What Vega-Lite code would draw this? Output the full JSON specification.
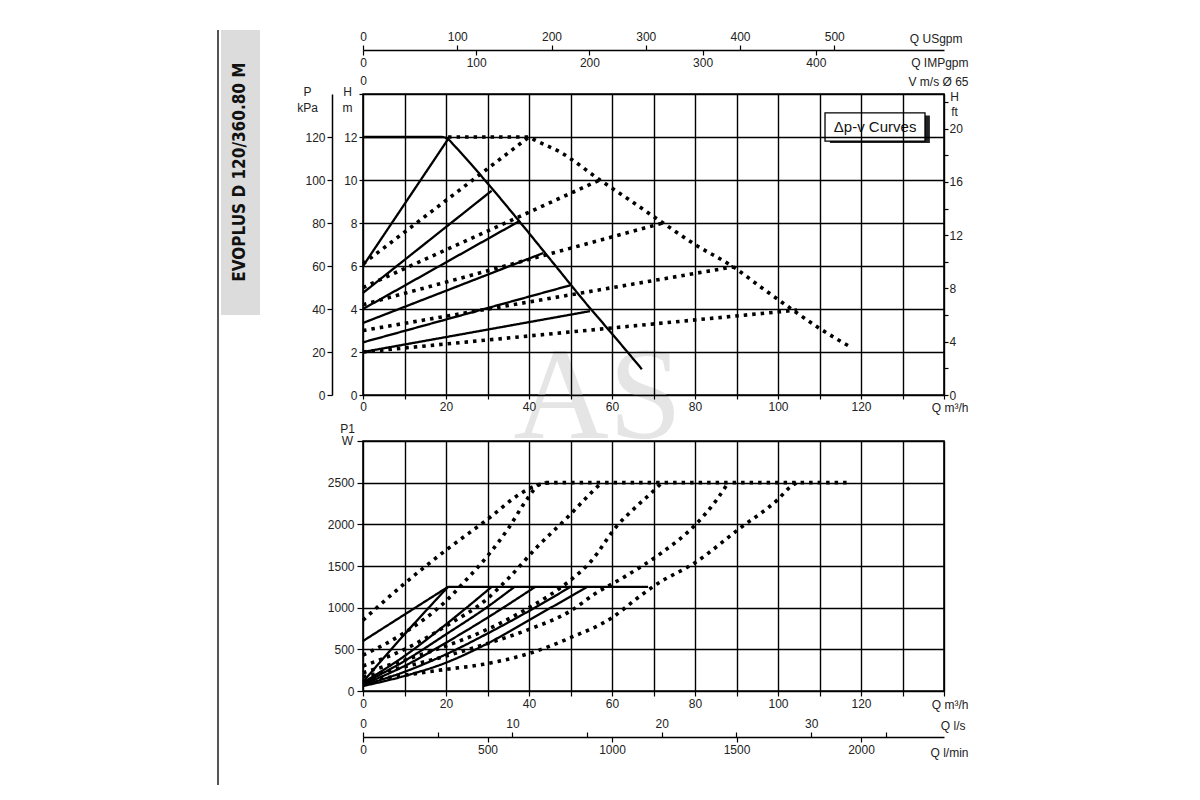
{
  "$schema": "https://vega.github.io/schema/vega-lite/v6.json",
  "background": "white",
  "padding": {"left": 216, "top": 28, "right": 5, "bottom": 5},
  "config": {
    "view": {"stroke": "black", "strokeWidth": 1.6},
    "axis": {"labelFont": "Liberation Sans", "labelFontSize": 12, "labelColor": "#222", "titleFont": "Liberation Sans", "titleFontSize": 12, "titleFontWeight": "normal", "titleColor": "#222", "domainColor": "black", "tickColor": "black", "gridColor": "black", "gridWidth": 1.4, "gridOpacity": 1, "domainWidth": 1.5, "tickWidth": 1.2, "labelOverlap": false, "labelFlush": false},
    "text": {"font": "Liberation Sans"}
  },
  "datasets": {
    "upper": [
      {"s": "max", "t": "solid", "Q": 0, "H": 12},
      {"s": "max", "t": "solid", "Q": 19, "H": 12},
      {"s": "max", "t": "solid", "Q": 20.5, "H": 11.9},
      {"s": "max", "t": "solid", "Q": 22, "H": 11.6},
      {"s": "max", "t": "solid", "Q": 30, "H": 9.85},
      {"s": "max", "t": "solid", "Q": 38, "H": 8.0},
      {"s": "max", "t": "solid", "Q": 46, "H": 6.1},
      {"s": "max", "t": "solid", "Q": 54, "H": 4.2},
      {"s": "max", "t": "solid", "Q": 60, "H": 2.85},
      {"s": "max", "t": "solid", "Q": 67.2, "H": 1.2},
      {"s": "sa", "t": "solid", "Q": 0, "H": 6.0},
      {"s": "sa", "t": "solid", "Q": 20.5, "H": 11.9},
      {"s": "sb", "t": "solid", "Q": 0, "H": 4.75},
      {"s": "sb", "t": "solid", "Q": 31, "H": 9.5},
      {"s": "sc", "t": "solid", "Q": 0, "H": 4.0},
      {"s": "sc", "t": "solid", "Q": 37.8, "H": 8.1},
      {"s": "sd", "t": "solid", "Q": 0, "H": 3.35},
      {"s": "sd", "t": "solid", "Q": 43.4, "H": 6.6},
      {"s": "se", "t": "solid", "Q": 0, "H": 2.45},
      {"s": "se", "t": "solid", "Q": 49.9, "H": 5.1},
      {"s": "sf", "t": "solid", "Q": 0, "H": 2.0},
      {"s": "sf", "t": "solid", "Q": 54.7, "H": 3.9},
      {"s": "denv", "t": "dotted", "Q": 20.5, "H": 12},
      {"s": "denv", "t": "dotted", "Q": 40, "H": 12},
      {"s": "denv", "t": "dotted", "Q": 41.5, "H": 11.85},
      {"s": "denv", "t": "dotted", "Q": 47.5, "H": 11.3},
      {"s": "denv", "t": "dotted", "Q": 57.1, "H": 10.0},
      {"s": "denv", "t": "dotted", "Q": 64, "H": 9.1},
      {"s": "denv", "t": "dotted", "Q": 72.3, "H": 8.0},
      {"s": "denv", "t": "dotted", "Q": 80, "H": 7.0},
      {"s": "denv", "t": "dotted", "Q": 89.2, "H": 5.96},
      {"s": "denv", "t": "dotted", "Q": 96, "H": 5.0},
      {"s": "denv", "t": "dotted", "Q": 103.6, "H": 3.95},
      {"s": "denv", "t": "dotted", "Q": 110, "H": 3.1},
      {"s": "denv", "t": "dotted", "Q": 117.8, "H": 2.2},
      {"s": "da", "t": "dotted", "Q": 0, "H": 6.1},
      {"s": "da", "t": "dotted", "Q": 40, "H": 12},
      {"s": "db", "t": "dotted", "Q": 0, "H": 5.0},
      {"s": "db", "t": "dotted", "Q": 57.1, "H": 10.0},
      {"s": "dc", "t": "dotted", "Q": 0, "H": 4.2},
      {"s": "dc", "t": "dotted", "Q": 72.3, "H": 8.0},
      {"s": "dd", "t": "dotted", "Q": 0, "H": 3.0},
      {"s": "dd", "t": "dotted", "Q": 89.2, "H": 5.96},
      {"s": "de", "t": "dotted", "Q": 0, "H": 2.0},
      {"s": "de", "t": "dotted", "Q": 104.6, "H": 3.95}
    ],
    "lower": [
      {"s": "pmax", "t": "solid", "Q": 20.5, "P": 1250},
      {"s": "pmax", "t": "solid", "Q": 68.7, "P": 1250},
      {"s": "ps1", "t": "solid", "Q": 0, "P": 600},
      {"s": "ps1", "t": "solid", "Q": 20.5, "P": 1250},
      {"s": "ps2", "t": "solid", "Q": 0, "P": 110},
      {"s": "ps2", "t": "solid", "Q": 10, "P": 680},
      {"s": "ps2", "t": "solid", "Q": 20.5, "P": 1250},
      {"s": "ps3", "t": "solid", "Q": 0, "P": 100},
      {"s": "ps3", "t": "solid", "Q": 10, "P": 420},
      {"s": "ps3", "t": "solid", "Q": 20, "P": 800},
      {"s": "ps3", "t": "solid", "Q": 31, "P": 1250},
      {"s": "ps4", "t": "solid", "Q": 0, "P": 90},
      {"s": "ps4", "t": "solid", "Q": 10, "P": 360},
      {"s": "ps4", "t": "solid", "Q": 20, "P": 680},
      {"s": "ps4", "t": "solid", "Q": 30, "P": 1010},
      {"s": "ps4", "t": "solid", "Q": 36.5, "P": 1250},
      {"s": "ps5", "t": "solid", "Q": 0, "P": 80},
      {"s": "ps5", "t": "solid", "Q": 10, "P": 300},
      {"s": "ps5", "t": "solid", "Q": 20, "P": 580},
      {"s": "ps5", "t": "solid", "Q": 30, "P": 880},
      {"s": "ps5", "t": "solid", "Q": 41.5, "P": 1250},
      {"s": "ps6", "t": "solid", "Q": 0, "P": 70},
      {"s": "ps6", "t": "solid", "Q": 10, "P": 230},
      {"s": "ps6", "t": "solid", "Q": 20, "P": 440},
      {"s": "ps6", "t": "solid", "Q": 30, "P": 690},
      {"s": "ps6", "t": "solid", "Q": 40, "P": 960},
      {"s": "ps6", "t": "solid", "Q": 50, "P": 1250},
      {"s": "ps7", "t": "solid", "Q": 0, "P": 60},
      {"s": "ps7", "t": "solid", "Q": 10, "P": 180},
      {"s": "ps7", "t": "solid", "Q": 20, "P": 340},
      {"s": "ps7", "t": "solid", "Q": 30, "P": 570},
      {"s": "ps7", "t": "solid", "Q": 40, "P": 850},
      {"s": "ps7", "t": "solid", "Q": 54, "P": 1250},
      {"s": "pdh", "t": "dotted", "Q": 44, "P": 2500},
      {"s": "pdh", "t": "dotted", "Q": 117, "P": 2500},
      {"s": "pd0", "t": "dotted", "Q": 0, "P": 850},
      {"s": "pd0", "t": "dotted", "Q": 10, "P": 1290},
      {"s": "pd0", "t": "dotted", "Q": 20, "P": 1690},
      {"s": "pd0", "t": "dotted", "Q": 30, "P": 2060},
      {"s": "pd0", "t": "dotted", "Q": 38, "P": 2370},
      {"s": "pd0", "t": "dotted", "Q": 42, "P": 2470},
      {"s": "pd0", "t": "dotted", "Q": 45, "P": 2500},
      {"s": "pd1", "t": "dotted", "Q": 0, "P": 430},
      {"s": "pd1", "t": "dotted", "Q": 10, "P": 700},
      {"s": "pd1", "t": "dotted", "Q": 20, "P": 1080},
      {"s": "pd1", "t": "dotted", "Q": 25, "P": 1340},
      {"s": "pd1", "t": "dotted", "Q": 30, "P": 1620},
      {"s": "pd1", "t": "dotted", "Q": 35, "P": 1950},
      {"s": "pd1", "t": "dotted", "Q": 39.5, "P": 2300},
      {"s": "pd1", "t": "dotted", "Q": 42.5, "P": 2480},
      {"s": "pd1", "t": "dotted", "Q": 44, "P": 2500},
      {"s": "pd2", "t": "dotted", "Q": 0, "P": 300},
      {"s": "pd2", "t": "dotted", "Q": 10, "P": 500},
      {"s": "pd2", "t": "dotted", "Q": 20, "P": 780},
      {"s": "pd2", "t": "dotted", "Q": 30, "P": 1110},
      {"s": "pd2", "t": "dotted", "Q": 35, "P": 1350},
      {"s": "pd2", "t": "dotted", "Q": 42, "P": 1730},
      {"s": "pd2", "t": "dotted", "Q": 49.4, "P": 2090},
      {"s": "pd2", "t": "dotted", "Q": 55, "P": 2380},
      {"s": "pd2", "t": "dotted", "Q": 57.5, "P": 2500},
      {"s": "pd3", "t": "dotted", "Q": 0, "P": 220},
      {"s": "pd3", "t": "dotted", "Q": 10, "P": 370},
      {"s": "pd3", "t": "dotted", "Q": 20, "P": 540},
      {"s": "pd3", "t": "dotted", "Q": 30, "P": 740},
      {"s": "pd3", "t": "dotted", "Q": 40, "P": 1000},
      {"s": "pd3", "t": "dotted", "Q": 45, "P": 1150},
      {"s": "pd3", "t": "dotted", "Q": 50, "P": 1330},
      {"s": "pd3", "t": "dotted", "Q": 55, "P": 1560},
      {"s": "pd3", "t": "dotted", "Q": 61, "P": 1970},
      {"s": "pd3", "t": "dotted", "Q": 66, "P": 2220},
      {"s": "pd3", "t": "dotted", "Q": 70.4, "P": 2420},
      {"s": "pd3", "t": "dotted", "Q": 72, "P": 2500},
      {"s": "pd4", "t": "dotted", "Q": 0, "P": 170},
      {"s": "pd4", "t": "dotted", "Q": 10, "P": 290},
      {"s": "pd4", "t": "dotted", "Q": 20, "P": 420},
      {"s": "pd4", "t": "dotted", "Q": 30, "P": 570},
      {"s": "pd4", "t": "dotted", "Q": 40, "P": 740},
      {"s": "pd4", "t": "dotted", "Q": 50, "P": 960},
      {"s": "pd4", "t": "dotted", "Q": 56, "P": 1170},
      {"s": "pd4", "t": "dotted", "Q": 63, "P": 1370},
      {"s": "pd4", "t": "dotted", "Q": 72, "P": 1660},
      {"s": "pd4", "t": "dotted", "Q": 80, "P": 1990},
      {"s": "pd4", "t": "dotted", "Q": 85, "P": 2280},
      {"s": "pd4", "t": "dotted", "Q": 88, "P": 2500},
      {"s": "pd5", "t": "dotted", "Q": 0, "P": 120},
      {"s": "pd5", "t": "dotted", "Q": 10, "P": 190},
      {"s": "pd5", "t": "dotted", "Q": 20, "P": 260},
      {"s": "pd5", "t": "dotted", "Q": 29, "P": 320},
      {"s": "pd5", "t": "dotted", "Q": 40, "P": 450},
      {"s": "pd5", "t": "dotted", "Q": 50, "P": 640},
      {"s": "pd5", "t": "dotted", "Q": 60, "P": 880},
      {"s": "pd5", "t": "dotted", "Q": 66, "P": 1110},
      {"s": "pd5", "t": "dotted", "Q": 70.4, "P": 1270},
      {"s": "pd5", "t": "dotted", "Q": 80, "P": 1540},
      {"s": "pd5", "t": "dotted", "Q": 91, "P": 1960},
      {"s": "pd5", "t": "dotted", "Q": 100, "P": 2300},
      {"s": "pd5", "t": "dotted", "Q": 103, "P": 2450},
      {"s": "pd5", "t": "dotted", "Q": 104.5, "P": 2500}
    ]
  },
  "vconcat": [
    {
      "width": 581,
      "height": 301,
      "resolve": {"scale": {"x": "independent", "y": "independent"}},
      "layer": [
        {
          "data": {"values": [{"Q": 56.6, "H": -0.14, "txt": "AS"}]},
          "mark": {"type": "text", "font": "Liberation Serif", "fontSize": 132, "color": "#d4d4d4", "opacity": 0.6, "align": "center", "baseline": "middle"},
          "encoding": {
            "x": {"field": "Q", "type": "quantitative", "scale": {"domain": [0, 140], "nice": false, "zero": false}, "axis": null},
            "y": {"field": "H", "type": "quantitative", "scale": {"domain": [0, 14], "nice": false, "zero": false}, "axis": null},
            "text": {"field": "txt"}
          }
        },
        {
          "data": {"values": [{"Q": -34.94, "H1": 16.98, "H2": -18.14}]},
          "mark": {"type": "rule", "color": "#555", "strokeWidth": 2},
          "encoding": {
            "x": {"field": "Q", "type": "quantitative", "scale": {"domain": [0, 140], "nice": false, "zero": false}, "axis": null},
            "y": {"field": "H1", "type": "quantitative", "scale": {"domain": [0, 14], "nice": false, "zero": false}, "axis": null},
            "y2": {"field": "H2"}
          }
        },
        {
          "data": {"values": [{"Q1": -34.22, "Q2": -24.82, "H1": 16.98, "H2": 3.72}]},
          "mark": {"type": "rect", "color": "#dcdcdc"},
          "encoding": {
            "x": {"field": "Q1", "type": "quantitative", "scale": {"domain": [0, 140], "nice": false, "zero": false}, "axis": null},
            "x2": {"field": "Q2"},
            "y": {"field": "H1", "type": "quantitative", "scale": {"domain": [0, 14], "nice": false, "zero": false}, "axis": null},
            "y2": {"field": "H2"}
          }
        },
        {
          "data": {"values": [{"Q": -29.64, "H": 10.37, "txt": "EVOPLUS D 120/360.80 M"}]},
          "mark": {"type": "text", "font": "DejaVu Sans Condensed", "fontWeight": "bold", "fontSize": 17, "angle": 270, "color": "#111", "align": "center", "baseline": "middle"},
          "encoding": {
            "x": {"field": "Q", "type": "quantitative", "scale": {"domain": [0, 140], "nice": false, "zero": false}, "axis": null},
            "y": {"field": "H", "type": "quantitative", "scale": {"domain": [0, 14], "nice": false, "zero": false}, "axis": null},
            "text": {"field": "txt"}
          }
        },
        {
          "data": {"name": "upper"},
          "mark": {"type": "line", "color": "black", "strokeCap": "butt", "interpolate": "monotone"},
          "encoding": {
            "x": {"field": "Q", "type": "quantitative", "scale": {"domain": [0, 140], "nice": false, "zero": false},
              "axis": {"orient": "bottom", "values": [0, 10, 20, 30, 40, 50, 60, 70, 80, 90, 100, 110, 120, 130, 140], "labelExpr": "datum.value % 20 == 0 && datum.value <= 120 ? datum.label : ''", "grid": true, "domain": false, "tickSize": 4, "labelPadding": 2, "title": "Q m³/h", "titleX": 605, "titleY": 12, "titleAlign": "right", "titleBaseline": "middle", "zindex": 1}},
            "y": {"field": "H", "type": "quantitative", "scale": {"domain": [0, 14], "nice": false, "zero": false},
              "axis": {"orient": "left", "values": [0, 2, 4, 6, 8, 10, 12, 14], "labelExpr": "datum.value == 14 ? '' : datum.label", "grid": true, "domain": false, "tickSize": 4, "labelPadding": 2, "title": ["H", "m"], "titleAngle": 0, "titleX": -16, "titleY": -8, "titleAlign": "center", "titleBaseline": "top", "titleLineHeight": 16, "zindex": 1}},
            "detail": {"field": "s"},
            "strokeDash": {"field": "t", "type": "nominal", "scale": {"domain": ["solid", "dotted"], "range": [[1, 0], [3.5, 5]]}, "legend": null},
            "strokeWidth": {"field": "t", "type": "nominal", "scale": {"domain": ["solid", "dotted"], "range": [2.3, 3.6]}, "legend": null}
          }
        },
        {
          "data": {"values": [{"Q1": 112.5, "Q2": 136.6, "H1": 13.0, "H2": 11.72}]},
          "mark": {"type": "rect", "color": "#222"},
          "encoding": {
            "x": {"field": "Q1", "type": "quantitative", "scale": {"domain": [0, 140], "nice": false, "zero": false}, "axis": null},
            "x2": {"field": "Q2"},
            "y": {"field": "H1", "type": "quantitative", "scale": {"domain": [0, 14], "nice": false, "zero": false}, "axis": null},
            "y2": {"field": "H2"}
          }
        },
        {
          "data": {"values": [{"Q1": 111.33, "Q2": 135.42, "H1": 13.12, "H2": 11.81}]},
          "mark": {"type": "rect", "fill": "white", "stroke": "black", "strokeWidth": 1.3},
          "encoding": {
            "x": {"field": "Q1", "type": "quantitative", "scale": {"domain": [0, 140], "nice": false, "zero": false}, "axis": null},
            "x2": {"field": "Q2"},
            "y": {"field": "H1", "type": "quantitative", "scale": {"domain": [0, 14], "nice": false, "zero": false}, "axis": null},
            "y2": {"field": "H2"}
          }
        },
        {
          "data": {"values": [{"Q": 123.4, "H": 12.47, "txt": "Δp-v Curves"}]},
          "mark": {"type": "text", "font": "Liberation Sans", "fontSize": 15, "color": "#111", "align": "center", "baseline": "middle"},
          "encoding": {
            "x": {"field": "Q", "type": "quantitative", "scale": {"domain": [0, 140], "nice": false, "zero": false}, "axis": null},
            "y": {"field": "H", "type": "quantitative", "scale": {"domain": [0, 14], "nice": false, "zero": false}, "axis": null},
            "text": {"field": "txt"}
          }
        },
        {
          "data": {"values": [{"u": 0, "v": 0}]},
          "mark": {"type": "point", "opacity": 0},
          "encoding": {
            "x": {"field": "u", "type": "quantitative", "scale": {"domain": [0, 140], "nice": false, "zero": false}, "axis": null},
            "y": {"field": "v", "type": "quantitative", "scale": {"domain": [0, 140], "nice": false, "zero": false},
              "axis": {"orient": "left", "offset": 31, "values": [0, 20, 40, 60, 80, 100, 120], "domain": true, "tickSize": 5, "labelPadding": 2, "grid": false, "title": ["P", "kPa"], "titleAngle": 0, "titleX": -25, "titleY": -8, "titleAlign": "center", "titleBaseline": "top", "titleLineHeight": 16}}
          }
        },
        {
          "data": {"values": [{"u": 0, "v": 0}]},
          "mark": {"type": "point", "opacity": 0},
          "encoding": {
            "x": {"field": "u", "type": "quantitative", "scale": {"domain": [0, 140], "nice": false, "zero": false}, "axis": null},
            "y": {"field": "v", "type": "quantitative", "scale": {"domain": [0, 22.6], "nice": false, "zero": false},
              "axis": {"orient": "right", "values": [0, 2, 4, 6, 8, 10, 12, 14, 16, 18, 20, 22], "labelExpr": "datum.value % 4 == 0 && datum.value <= 20 ? datum.label : ''", "domain": false, "tickSize": 4, "labelPadding": 1, "grid": false, "title": ["H", "ft"], "titleAngle": 0, "titleX": 10, "titleY": -3, "titleAlign": "center", "titleBaseline": "top", "titleLineHeight": 15}}
          }
        },
        {
          "data": {"values": [{"u": 0, "v": 0}]},
          "mark": {"type": "point", "opacity": 0},
          "encoding": {
            "x": {"field": "v", "type": "quantitative", "scale": {"domain": [0, 616.4], "nice": false, "zero": false},
              "axis": {"orient": "top", "offset": 44, "values": [0, 100, 200, 300, 400, 500], "domain": true, "tickSize": 5, "labelPadding": 2, "grid": false, "title": "Q USgpm", "titleX": 599, "titleY": -12, "titleAlign": "right", "titleBaseline": "middle"}},
            "y": {"field": "u", "type": "quantitative", "scale": {"domain": [0, 14], "nice": false, "zero": false}, "axis": null}
          }
        },
        {
          "data": {"values": [{"u": 0, "v": 0}]},
          "mark": {"type": "point", "opacity": 0},
          "encoding": {
            "x": {"field": "v", "type": "quantitative", "scale": {"domain": [0, 513.2], "nice": false, "zero": false},
              "axis": {"orient": "bottom", "offset": -345, "values": [0, 100, 200, 300, 400], "domain": false, "tickSize": 5, "labelPadding": 2, "grid": false, "title": "Q IMPgpm", "titleX": 605, "titleY": 12, "titleAlign": "right", "titleBaseline": "middle"}},
            "y": {"field": "u", "type": "quantitative", "scale": {"domain": [0, 14], "nice": false, "zero": false}, "axis": null}
          }
        },
        {
          "data": {"values": [{"u": 0, "v": 0}]},
          "mark": {"type": "point", "opacity": 0},
          "encoding": {
            "x": {"field": "v", "type": "quantitative", "scale": {"domain": [0, 11.7], "nice": false, "zero": false},
              "axis": {"orient": "top", "offset": 6, "values": [0], "domain": false, "ticks": false, "labelPadding": 1, "grid": false, "title": "V m/s Ø 65", "titleX": 605, "titleY": -7, "titleAlign": "right", "titleBaseline": "middle"}},
            "y": {"field": "u", "type": "quantitative", "scale": {"domain": [0, 14], "nice": false, "zero": false}, "axis": null}
          }
        }
      ]
    },
    {
      "width": 581,
      "height": 250,
      "resolve": {"scale": {"x": "independent", "y": "independent"}},
      "layer": [
        {
          "data": {"name": "lower"},
          "mark": {"type": "line", "color": "black", "strokeCap": "butt", "interpolate": "monotone"},
          "encoding": {
            "x": {"field": "Q", "type": "quantitative", "scale": {"domain": [0, 140], "nice": false, "zero": false},
              "axis": {"orient": "bottom", "values": [0, 10, 20, 30, 40, 50, 60, 70, 80, 90, 100, 110, 120, 130, 140], "labelExpr": "datum.value % 20 == 0 && datum.value <= 120 ? datum.label : ''", "grid": true, "domain": false, "tickSize": 5, "labelPadding": 2, "title": "Q m³/h", "titleX": 605, "titleY": 13, "titleAlign": "right", "titleBaseline": "middle", "zindex": 1}},
            "y": {"field": "P", "type": "quantitative", "scale": {"domain": [0, 3000], "nice": false, "zero": false},
              "axis": {"orient": "left", "values": [0, 500, 1000, 1500, 2000, 2500, 3000], "format": "d", "labelExpr": "datum.value == 3000 ? '' : datum.label", "grid": true, "domain": false, "tickSize": 6, "labelPadding": 3, "title": ["P1", "W"], "titleAngle": 0, "titleX": -16, "titleY": -18, "titleAlign": "center", "titleBaseline": "top", "titleLineHeight": 12, "zindex": 1}},
            "detail": {"field": "s"},
            "strokeDash": {"field": "t", "type": "nominal", "scale": {"domain": ["solid", "dotted"], "range": [[1, 0], [3.5, 5]]}, "legend": null},
            "strokeWidth": {"field": "t", "type": "nominal", "scale": {"domain": ["solid", "dotted"], "range": [2.3, 3.6]}, "legend": null}
          }
        },
        {
          "data": {"values": [{"u": 0, "v": 0}]},
          "mark": {"type": "point", "opacity": 0},
          "encoding": {
            "x": {"field": "v", "type": "quantitative", "scale": {"domain": [0, 38.89], "nice": false, "zero": false},
              "axis": {"orient": "top", "offset": -296, "values": [0, 5, 10, 15, 20, 25, 30, 35], "labelExpr": "datum.value % 10 == 0 ? datum.label : ''", "domain": true, "tickSize": 5, "labelPadding": 2, "grid": false, "title": "Q l/s", "titleX": 602, "titleY": -12, "titleAlign": "right", "titleBaseline": "middle"}},
            "y": {"field": "u", "type": "quantitative", "scale": {"domain": [0, 3000], "nice": false, "zero": false}, "axis": null}
          }
        },
        {
          "data": {"values": [{"u": 0, "v": 0}]},
          "mark": {"type": "point", "opacity": 0},
          "encoding": {
            "x": {"field": "v", "type": "quantitative", "scale": {"domain": [0, 2333.3], "nice": false, "zero": false},
              "axis": {"orient": "bottom", "offset": 46, "values": [0, 500, 1000, 1500, 2000], "format": "d", "domain": false, "tickSize": 5, "labelPadding": 2, "grid": false, "title": "Q l/min", "titleX": 605, "titleY": 15, "titleAlign": "right", "titleBaseline": "middle"}},
            "y": {"field": "u", "type": "quantitative", "scale": {"domain": [0, 3000], "nice": false, "zero": false}, "axis": null}
          }
        }
      ]
    }
  ],
  "spacing": 46,
  "bounds": "flush"
}
